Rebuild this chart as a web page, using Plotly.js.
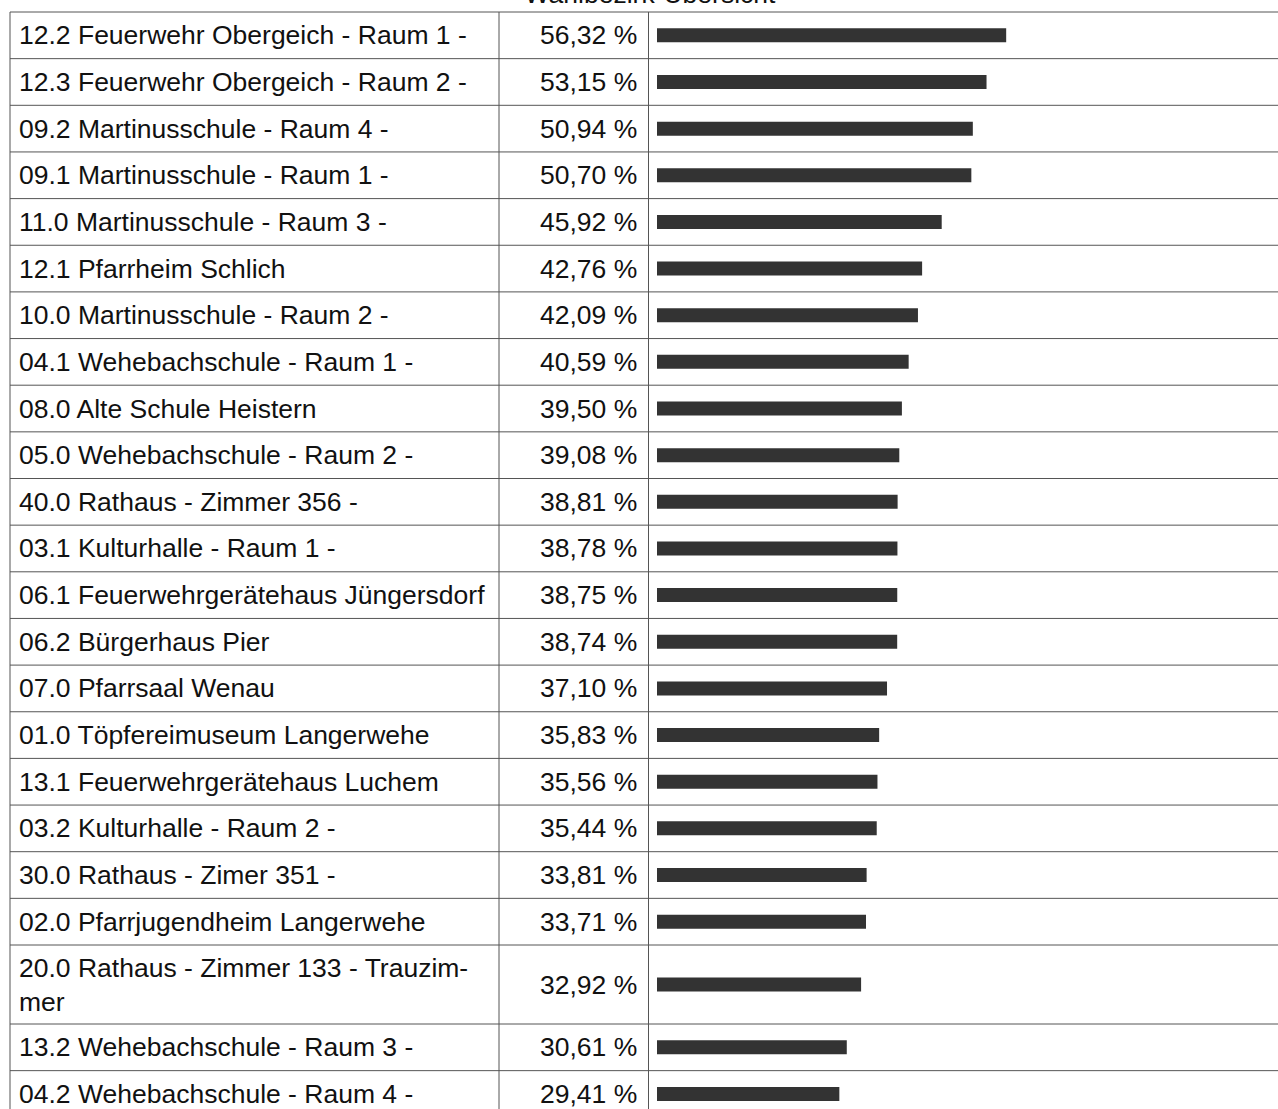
<!DOCTYPE html>
<html>
<head>
<meta charset="utf-8">
<script src="https://cdn.plot.ly/plotly-3.0.1.min.js"></script>
<style>html,body{margin:0;padding:0;background:#fff;}#chart{width:1278px;height:1109px;}</style>
</head>
<body>
<div id="chart"></div>
<script>
const chartTitle = "Wahlbezirk-Übersicht";
const labels = [
  "12.2 Feuerwehr Obergeich - Raum 1 -",
  "12.3 Feuerwehr Obergeich - Raum 2 -",
  "09.2 Martinusschule - Raum 4 -",
  "09.1 Martinusschule - Raum 1 -",
  "11.0 Martinusschule - Raum 3 -",
  "12.1 Pfarrheim Schlich",
  "10.0 Martinusschule - Raum 2 -",
  "04.1 Wehebachschule - Raum 1 -",
  "08.0 Alte Schule Heistern",
  "05.0 Wehebachschule - Raum 2 -",
  "40.0 Rathaus - Zimmer 356 -",
  "03.1 Kulturhalle - Raum 1 -",
  "06.1 Feuerwehrgerätehaus Jüngersdorf",
  "06.2 Bürgerhaus Pier",
  "07.0 Pfarrsaal Wenau",
  "01.0 Töpfereimuseum Langerwehe",
  "13.1 Feuerwehrgerätehaus Luchem",
  "03.2 Kulturhalle - Raum 2 -",
  "30.0 Rathaus - Zimer 351 -",
  "02.0 Pfarrjugendheim Langerwehe",
  "20.0 Rathaus - Zimmer 133 - Trauzim-<br>mer",
  "13.2 Wehebachschule - Raum 3 -",
  "04.2 Wehebachschule - Raum 4 -"
];
const percentages = [56.32, 53.15, 50.94, 50.70, 45.92, 42.76, 42.09, 40.59, 39.50, 39.08, 38.81, 38.78, 38.75, 38.74, 37.10, 35.83, 35.56, 35.44, 33.81, 33.71, 32.92, 30.61, 29.41];

// layout constants (pixels)
const W = 1278, H = 1109;
const tableTop = 12, rowH = 46.65, extraLineH = 32.35;
const colLeft = 10, col2 = 499, col3 = 648.5;
const FONT = "Liberation Sans, Arial, sans-serif";
const FS = 26.5;

// row geometry derived from labels
const bounds = [tableTop];
const centers = [];
labels.forEach(l => {
  const lines = l.split("<br>").length;
  const top = bounds[bounds.length - 1];
  const h = rowH + (lines - 1) * extraLineH;
  centers.push(top + h / 2);
  bounds.push(top + h);
});

const fmt = v => v.toFixed(2).replace(".", ",") + " %";

const shapes = [];
bounds.forEach(b => shapes.push({type: "line", xref: "paper", yref: "y", x0: colLeft / W, x1: 1, y0: b, y1: b, line: {color: "#555", width: 1}}));
[colLeft, col2, col3].forEach(x => shapes.push({type: "line", xref: "paper", yref: "y", x0: x / W, x1: x / W, y0: tableTop, y1: H, line: {color: "#555", width: 1}}));

const annotations = [];
labels.forEach((l, i) => {
  annotations.push({xref: "paper", yref: "y", x: 17 / W, y: centers[i], text: l, showarrow: false, xanchor: "left", yanchor: "middle", align: "left", font: {family: FONT, size: FS, color: "#111"}});
  annotations.push({xref: "paper", yref: "y", x: 639 / W, y: centers[i], text: fmt(percentages[i]), showarrow: false, xanchor: "right", yanchor: "middle", align: "right", font: {family: FONT, size: FS, color: "#111"}});
});

const trace = {
  type: "bar",
  orientation: "h",
  x: percentages,
  y: centers,
  width: 14,
  marker: {color: "#333333"},
  hoverinfo: "skip"
};

const layout = {
  width: W, height: H,
  margin: {l: 0, r: 0, t: 0, b: 0},
  paper_bgcolor: "#fff", plot_bgcolor: "#fff",
  showlegend: false,
  title: {text: chartTitle, xref: "container", yref: "container", x: 650 / W, xanchor: "center", y: 1 - 3 / H, yanchor: "bottom", font: {family: FONT, size: FS, color: "#111"}},
  xaxis: {domain: [657 / W, 1277 / W], range: [0, 100], showgrid: false, zeroline: false, showticklabels: false, showline: false, fixedrange: true},
  yaxis: {range: [H, 0], showgrid: false, zeroline: false, showticklabels: false, showline: false, fixedrange: true},
  shapes: shapes,
  annotations: annotations
};

Plotly.newPlot("chart", [trace], layout, {displayModeBar: false, staticPlot: true});
</script>
</body>
</html>
